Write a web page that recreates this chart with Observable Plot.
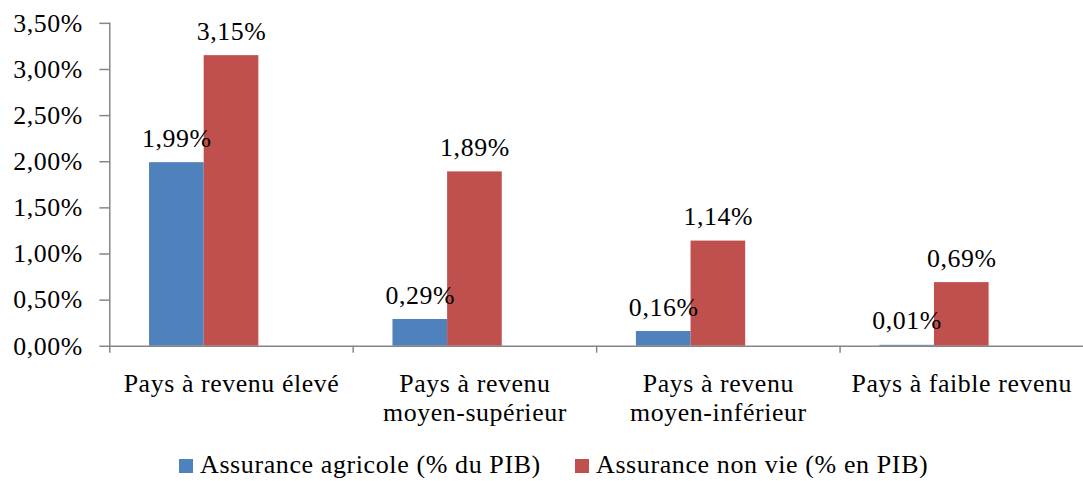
<!DOCTYPE html>
<html>
<head>
<meta charset="utf-8">
<script src="https://cdn.jsdelivr.net/npm/d3@7"></script>
<script src="https://cdn.jsdelivr.net/npm/@observablehq/plot@0.6"></script>
<style>
  html, body { margin: 0; padding: 0; background: #fff; overflow: hidden; }
  #wrap { width: 1083px; overflow: hidden; font-family: "Liberation Serif", serif; }
  #chart svg { display: block; }
  #chart svg text { letter-spacing: 0.6px; }
  #legend { position: relative; height: 29px; font-family: "Liberation Serif", serif; font-size: 26px; color: #000; white-space: nowrap; letter-spacing: 0.6px; }
  #legend .item { position: absolute; top: 1px; line-height: 29px; }
  #legend .sw { display: inline-block; width: 14px; height: 14px; margin-right: 7px; vertical-align: 0px; }
</style>
</head>
<body>
<div id="wrap">
  <div id="chart"></div>
  <div id="legend"></div>
</div>
<script>
const categories = ["Pays à revenu élevé", "Pays à revenu\nmoyen-supérieur", "Pays à revenu\nmoyen-inférieur", "Pays à faible revenu"];
const seriesNames = ["Assurance agricole (% du PIB)", "Assurance non vie (% en PIB)"];
const agricole = [0.0199, 0.0029, 0.0016, 0.0001];
const nonVie = [0.0315, 0.0189, 0.0114, 0.0069];
const yTicks = [0, 0.005, 0.01, 0.015, 0.02, 0.025, 0.03, 0.035];
const colors = ["#4F81BD", "#C0504D"];

const fr = d3.formatLocale({decimal: ",", thousands: " ", grouping: [3], currency: ["", "€"]});
const pct = fr.format(".2%");

const rows = [];
categories.forEach((c, i) => {
  rows.push({cat: c, series: seriesNames[0], value: agricole[i]});
  rows.push({cat: c, series: seriesNames[1], value: nonVie[i]});
});
const agriRows = rows.filter(d => d.series === seriesNames[0]);
const nvRows = rows.filter(d => d.series === seriesNames[1]);

const W = 1090, ML = 110, MR = 0;
const band = (W - ML - MR) / categories.length; // 245
const barW = band * 55 / 245;
const off = band * 40 / 245;

const font = "Liberation Serif, serif";
const fs = 26;

const chart = Plot.plot({
  width: W,
  height: 452,
  marginLeft: ML,
  marginRight: MR,
  marginTop: 23,
  marginBottom: 104,
  style: {fontFamily: font, fontSize: fs + "px", color: "#000", background: "#fff", overflow: "visible"},
  x: {domain: categories, padding: 0, label: null, axis: null},
  y: {domain: [0, 0.035], label: null, axis: null},
  marks: [
    Plot.barY(agriRows, {x: "cat", y: "value", fill: colors[0], insetLeft: off, insetRight: band - off - barW}),
    Plot.barY(nvRows, {x: "cat", y: "value", fill: colors[1], insetLeft: off + barW, insetRight: band - off - 2 * barW}),
    Plot.text(agriRows, {x: "cat", y: "value", text: d => pct(d.value), dx: off + barW / 2 - band / 2, dy: -16, lineAnchor: "bottom", fill: "#000", fontSize: fs}),
    Plot.text(nvRows, {x: "cat", y: "value", text: d => pct(d.value), dx: off + barW * 1.5 - band / 2, dy: -16, lineAnchor: "bottom", fill: "#000", fontSize: fs}),
    Plot.frame({anchor: "left", stroke: "#868686", strokeWidth: 1.5}),
    Plot.ruleY([0], {stroke: "#868686", strokeWidth: 1.5}),
    Plot.axisY({ticks: yTicks, tickFormat: pct, tickSize: 10, tickPadding: 17, stroke: "#868686", strokeWidth: 1.5, fill: "#000", fontSize: fs, label: null}),
    Plot.axisX({tickSize: 7, dx: -band / 2, tickFormat: () => "", stroke: "#868686", strokeWidth: 1.5, label: null}),
    Plot.axisX({tickSize: 0, tickPadding: 25, fill: "#000", fontSize: fs, lineHeight: 1.12, label: null})
  ]
});
document.getElementById("chart").appendChild(chart);

const legend = document.getElementById("legend");
const legendLeft = [179, 575];
seriesNames.forEach((s, i) => {
  const item = document.createElement("span");
  item.className = "item";
  item.style.left = legendLeft[i] + "px";
  const sw = document.createElement("span");
  sw.className = "sw";
  sw.style.background = colors[i];
  item.appendChild(sw);
  item.appendChild(document.createTextNode(s));
  legend.appendChild(item);
});
</script>
</body>
</html>
